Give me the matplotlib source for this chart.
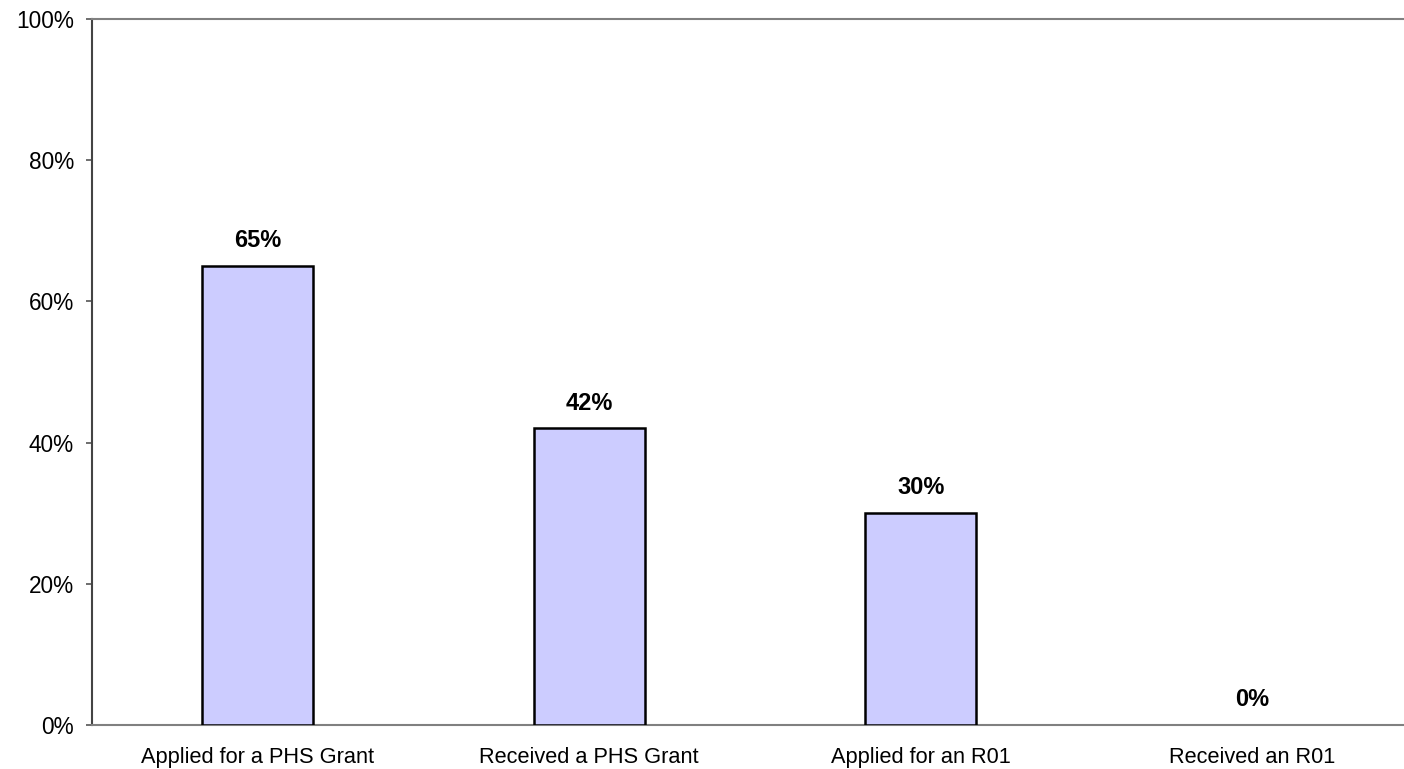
import numpy as np
import matplotlib.pyplot as plt

categories = ['Applied for a PHS Grant', 'Received a PHS Grant', 'Applied for an R01', 'Received an R01']
values = [65, 42, 30, 0]
yticks = [0, 20, 40, 60, 80, 100]

plt.rcParams['font.family'] = ['Liberation Sans', 'DejaVu Sans']

fig = plt.figure(figsize=(14.04, 7.69), dpi=100)
# axes deliberately run a bit past the right edge, like the original
ax = fig.add_axes([92/1404, 1 - 725/769, 1326/1404, 706/769])

x = np.arange(len(categories))
bars = ax.bar(x, values, width=0.335, color='#CCCCFF', edgecolor='black', linewidth=1.8, zorder=3)
# an empty bar leaves no outline on the axis
for b, v in zip(bars, values):
    if v == 0:
        b.set_linewidth(0)

for xi, v in zip(x, values):
    ax.annotate(f'{v}%', (xi, v), xytext=(0, 13.5), textcoords='offset points',
                ha='center', va='baseline', fontsize=17, fontweight='bold')

ax.set_xlim(-0.5, 3.5)
ax.set_ylim(0, 100)
ax.set_yticks(yticks)
ax.set_yticklabels([f'{t}%' for t in yticks], fontsize=16.3)
ax.set_xticks(x)
ax.set_xticklabels(categories, fontsize=15.7)
ax.tick_params(axis='x', length=0, pad=15.5)
ax.tick_params(axis='y', length=4.5, width=1.2, color='#555555', pad=8.5)

ax.spines['left'].set_color('#444444')
ax.spines['left'].set_linewidth(1.5)
for s in ['top', 'bottom']:
    ax.spines[s].set_color('#808080')
    ax.spines[s].set_linewidth(1.5)
ax.spines['right'].set_visible(False)

plt.savefig('out.png', dpi=100)
